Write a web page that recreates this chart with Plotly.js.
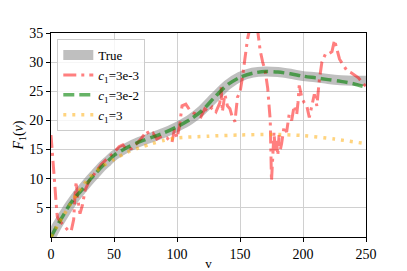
<!DOCTYPE html>
<html>
<head>
<meta charset="utf-8">
<script src="https://cdn.plot.ly/plotly-3.0.1.min.js"></script>
<style>html,body{margin:0;padding:0;background:#fff;}#chart{width:407px;height:271px;}</style>
</head>
<body>
<div id="chart"></div>
<script>
// True curve
var trueV = [0,5,10,15,20,25,30,35,40,45,50,60,70,80,90,100,110,120,130,140,150,160,170,180,190,200,210,220,230,240,250];
var trueF = [0,2,3.8,5.5,7,8.3,9.6,10.8,12,13,14,15.3,16.3,17.1,17.9,18.9,20.1,21.8,24,26.1,27.5,28.2,28.4,28.3,28,27.6,27.4,27.1,26.9,26.8,26.8];
// c1 = 3e-2
var greenV = [0,5,10,15,20,25,30,35,40,45,50,60,70,80,90,100,110,120,130,140,150,160,170,180,190,200,210,220,230,240,250];
var greenF = [0,2,3.8,5.6,7,8.2,9.6,10.8,12,13,14,15.3,16.3,17.1,17.9,18.9,20.1,21.7,24,26.1,27.4,28.1,28.4,28.3,28,27.6,27.3,27,26.7,26.3,25.7];
// c1 = 3
var yellowV = [0,5,10,15,20,25,30,40,50,60,70,80,90,100,125,150,175,200,225,250];
var yellowF = [0,1.9,3.7,5.5,7.2,8.7,10.1,12,13.3,14.5,15.3,16,16.6,17,17.3,17.5,17.6,17.4,16.8,16];
// c1 = 3e-3
var redV = [0,1,2,3,4,5,6,8,10,12,14,16,18,19,20,21,22,23,25,27,30,35,40,45,50,54,57,60,64,68,72,76,78,81,84,88,92,96,98,100,102,104,107,110,113,116,119,122,125,128,131,134,135,136,138,140,142,144,146,148,150,152,154,156,158,161,164,166,168,170,172,174,175,176,177,178,179,180,181,182,183,185,187,189,191,193,195,196,197,199,201,203,205,207,209,211,213,215,218,221,223,225,227,229,232,235,238,241,244,247,250];
var redF = [17.5,15,12,9,6,3.5,3,2.5,2,1.5,1,1,3,7,9.5,7,5,4,5.5,8,9.5,11,12.5,13.5,14.5,15.5,15.8,15,15.2,16,17,18.2,17.5,17.8,16.8,17.3,17,16.2,18.5,17,19,22.5,22.8,21.8,21.3,21,20.6,22,21.5,22.3,21.5,23,25.7,21.5,24.5,22.5,22,20.5,19.8,24,24.8,27.5,31,34,36,37,35.5,32,30,28.5,25.5,20,9.6,14,18,14.5,16.5,14,17.5,15,16,19,18,21,20,22.5,21,23,26,24,23,22.5,20.5,22.5,24.5,22.5,27,30,31.5,31.5,31.8,33.8,32,30.5,29.5,28.5,28.2,27.7,27.3,26.5,25.8];
var xTicks = [0,50,100,150,200,250];
var yTicks = [5,10,15,20,25,30,35];

var serif = "Liberation Serif";
var traces = [
  {x: trueV, y: trueF, mode: 'lines', name: 'True', line: {color: 'rgba(128,128,128,0.5)', width: 10, shape: 'spline', smoothing: 0.8}},
  {x: redV, y: redF, mode: 'lines', name: '<i>c</i><sub>1</sub>=3e-3', line: {color: 'rgba(255,0,0,0.5)', width: 3, dash: '13px,5px,3px,5px'}},
  {x: greenV, y: greenF, mode: 'lines', name: '<i>c</i><sub>1</sub>=3e-2', line: {color: 'rgba(0,128,0,0.6)', width: 3.5, dash: '11px,5px', shape: 'spline', smoothing: 0.8}},
  {x: yellowV, y: yellowF, mode: 'lines', name: '<i>c</i><sub>1</sub>=3', line: {color: 'rgba(255,170,0,0.5)', width: 3.5, dash: '3px,6px', shape: 'spline', smoothing: 0.8}}
];
var layout = {
  width: 407, height: 271,
  margin: {l: 51, r: 41, t: 33, b: 34},
  paper_bgcolor: '#fff', plot_bgcolor: '#fff',
  font: {family: serif, size: 13, color: '#000'},
  showlegend: true,
  legend: {x: 0.02, y: 0.97, xanchor: 'left', yanchor: 'top', bgcolor: 'rgba(255,255,255,0.8)', bordercolor: '#cccccc', borderwidth: 1, font: {family: serif, size: 13}, tracegroupgap: 0},
  xaxis: {range: [0, 250], tickvals: xTicks, ticktext: xTicks.map(String), showgrid: true, gridcolor: '#d0d0d0', gridwidth: 1, zeroline: false, showline: true, linecolor: '#000', linewidth: 1, mirror: true, ticks: 'outside', ticklen: 4, tickcolor: '#000', tickfont: {family: serif, size: 14, color: '#000'}, title: {text: 'v', font: {family: serif, size: 13}, standoff: 4}},
  yaxis: {range: [0, 35], tickvals: yTicks, ticktext: yTicks.map(String), showgrid: true, gridcolor: '#d0d0d0', gridwidth: 1, zeroline: false, showline: true, linecolor: '#000', linewidth: 1, mirror: true, ticks: 'outside', ticklen: 4, tickcolor: '#000', tickfont: {family: serif, size: 14, color: '#000'}, title: {text: '<i>F</i><sub>1</sub>(<i>v</i>)', font: {family: serif, size: 14}, standoff: 2}}
};
Plotly.newPlot('chart', traces, layout, {displayModeBar: false, staticPlot: true});
</script>
</body>
</html>
